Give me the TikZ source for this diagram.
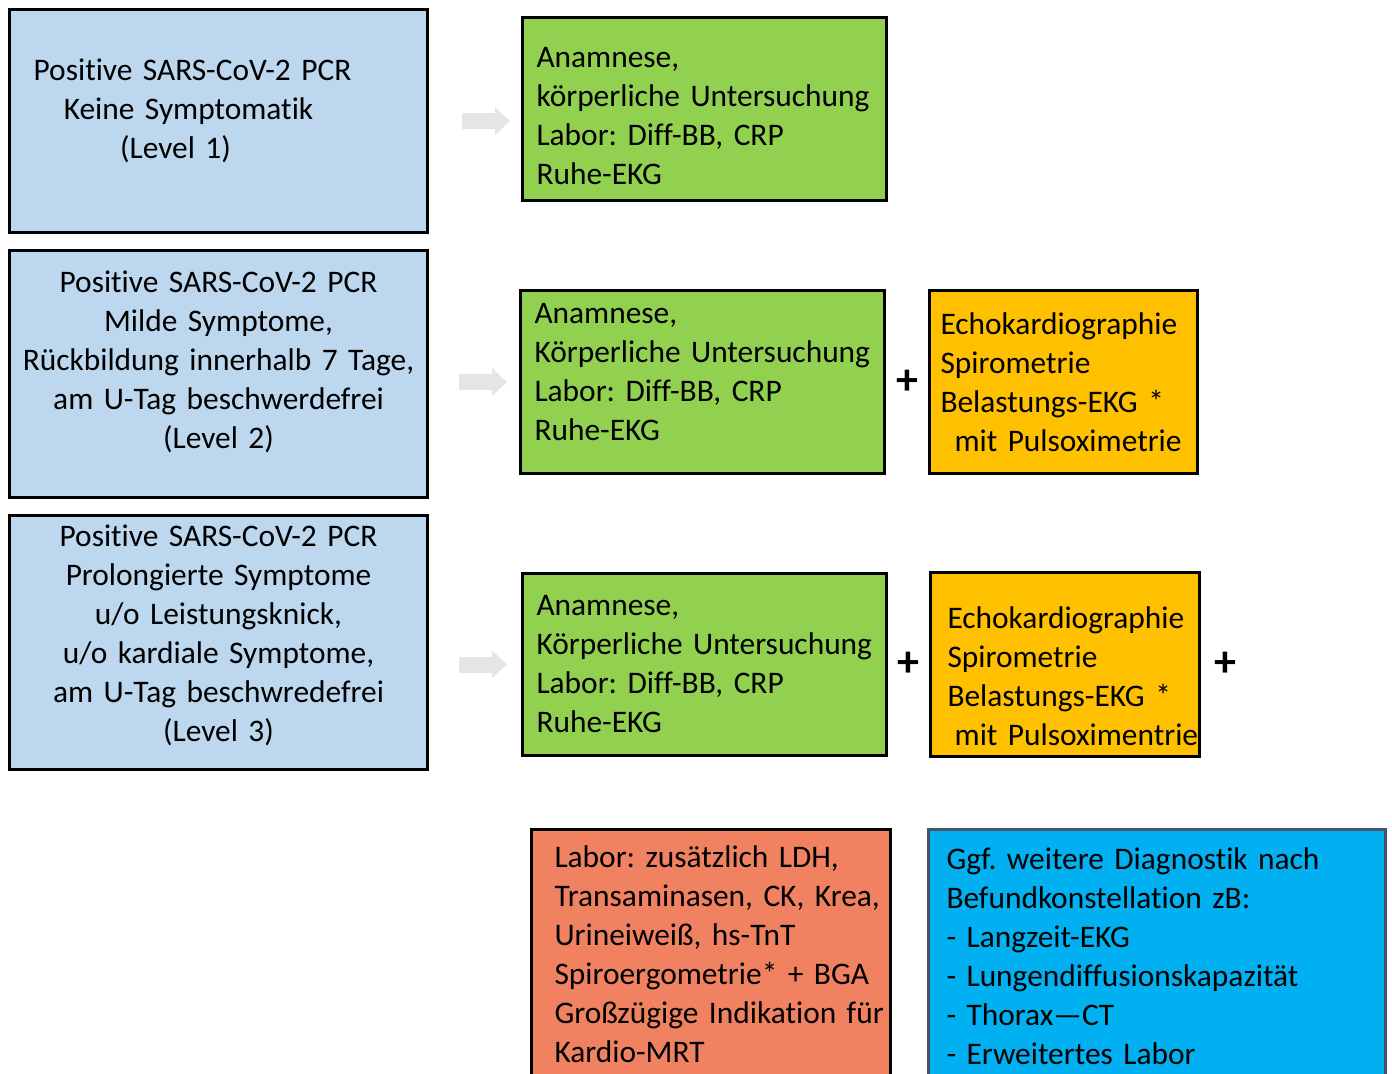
\documentclass[tikz,border=0pt]{standalone}
\usepackage{fontspec}
\setmainfont[Ligatures=NoCommon]{Carlito}
\frenchspacing
\hyphenpenalty=10000
\exhyphenpenalty=10000
\usetikzlibrary{positioning,arrows.meta}

\definecolor{levelblue}{HTML}{BDD7EE}
\definecolor{basicgreen}{HTML}{92D050}
\definecolor{extraorange}{HTML}{FFC000}
\definecolor{laborred}{HTML}{F08262}
\definecolor{moreblue}{HTML}{00B0F0}
\definecolor{moreline}{HTML}{44546A}

\begin{document}
\begin{tikzpicture}
\tikzstyle{box}=[rectangle, draw=black, line width=1.5pt, inner ysep=0pt, outer sep=0pt, font=\fontsize{15.7}{19.5}\selectfont]
\tikzstyle{level}=[box, fill=levelblue, align=center, inner xsep=4.5pt, text width=200pt, minimum width=209pt]
\tikzstyle{basic}=[box, fill=basicgreen, align=left, inner xsep=7pt, text width=168pt, minimum width=182pt, minimum height=91.5pt]
\tikzstyle{extra}=[box, fill=extraorange, align=left, minimum height=91.5pt]
\tikzstyle{plus}=[font=\fontsize{22}{22}\bfseries\selectfont, inner sep=0pt]
\tikzstyle{flow}=[line width=8pt, draw=black!10, -{Triangle[width=13.5pt,length=7.5pt]}]

  \path[use as bounding box] (0,0) rectangle (696pt,-537pt);
  \clip (0,0) rectangle (696pt,-537pt);

  % levels
  \node[level, minimum height=111.5pt, text depth=51pt, anchor=north west] (level1) at (4.75pt,-4.75pt) {Positive SARS-CoV-2 PCR\hspace*{26pt}\mbox{}\\ Keine Symptomatik\hspace*{30pt}\mbox{}\\ (Level 1)\hspace*{43pt}\mbox{}};
  \node[level, minimum height=123.5pt, text depth=92pt] (level2) [below=9pt of level1] {Positive SARS-CoV-2 PCR\\ Milde Symptome,\\ Rückbildung innerhalb 7 Tage,\\ am U-Tag beschwerdefrei\\ (Level 2)};
  \node[level, minimum height=127pt, text depth=106.5pt] (level3) [below=9pt of level2] {Positive SARS-CoV-2 PCR\\ Prolongierte Symptome\\ u/o Leistungsknick,\\ u/o kardiale Symptome,\\ am U-Tag beschwredefrei\\ (Level 3)};

  % diagnostics
  \node[basic, text height=17pt] (basic1) [below right=4pt and 47.5pt of level1.north east] {Anamnese,\\ körperliche~Untersuchung\\ Labor: Diff-BB, CRP\\ Ruhe-EKG};
  \node[basic, text depth=69pt] (basic2) [below right=20pt and 46.5pt of level2.north east] {Anamnese,\\ Körperliche~Untersuchung\\ Labor: Diff-BB, CRP\\ Ruhe-EKG};
  \node[extra, inner xsep=5.5pt, text width=123pt, minimum width=134pt] (extra2) [right=22.5pt of basic2] {Echokardiographie\\ Spirometrie\\ Belastungs-EKG *\\ \hspace*{7pt}mit~Pulsoximetrie};
  \node[basic, minimum height=91pt, text depth=59.5pt] (basic3) [below right=29pt and 47.5pt of level3.north east] {Anamnese,\\ Körperliche~Untersuchung\\ Labor: Diff-BB, CRP\\ Ruhe-EKG};
  \node[extra, inner xsep=8.5pt, text width=117.5pt, minimum width=134.5pt, text height=22.5pt] (extra3) [right=22pt of basic3] {Echokardiographie\\ Spirometrie\\ Belastungs-EKG *\\ \hspace*{3.6pt}mit~Pulsoximentrie};

  \node[box, fill=laborred, align=left, inner xsep=11.5pt, text width=156.5pt, minimum width=179.5pt, minimum height=128pt, text depth=101pt] (labor) [below right=37pt and 4.5pt of basic3.south west] {Labor: zusätzlich LDH,\\ Transaminasen,~CK,~Krea,\\ Urineiweiß, hs-TnT\\ Spiroergometrie*~+~BGA\\ Großzügige~Indikation~für\\ Kardio-MRT};
  \node[box, draw=moreline, fill=moreblue, align=left, inner xsep=9pt, text width=210.5pt, minimum width=228.5pt, minimum height=128pt, text depth=99pt] (more) [right=19pt of labor] {Ggf. weitere Diagnostik nach\\ Befundkonstellation zB:\\ - Langzeit-EKG\\ - Lungendiffusionskapazität\\ - Thorax—CT\\ - Erweitertes Labor};

  % arrows and plus signs
  \draw[flow, shorten <=17.25pt, shorten >=6.25pt] (level1.east) -- (level1.east -| basic1.west);
  \draw[flow, shorten <=15.75pt, shorten >=6.75pt] (basic2.west -| level2.east) -- (basic2.west);
  \draw[flow, shorten <=15.75pt, shorten >=7.75pt] (basic3.west -| level3.east) -- (basic3.west);

  \path (basic2) -- node[plus] (plus2) {+} (extra2);
  \path (basic3) -- node[plus] (plus3) {+} (extra3);
  \node[plus] (plus4) [right=7.25pt of extra3] {+};
\end{tikzpicture}
\end{document}
